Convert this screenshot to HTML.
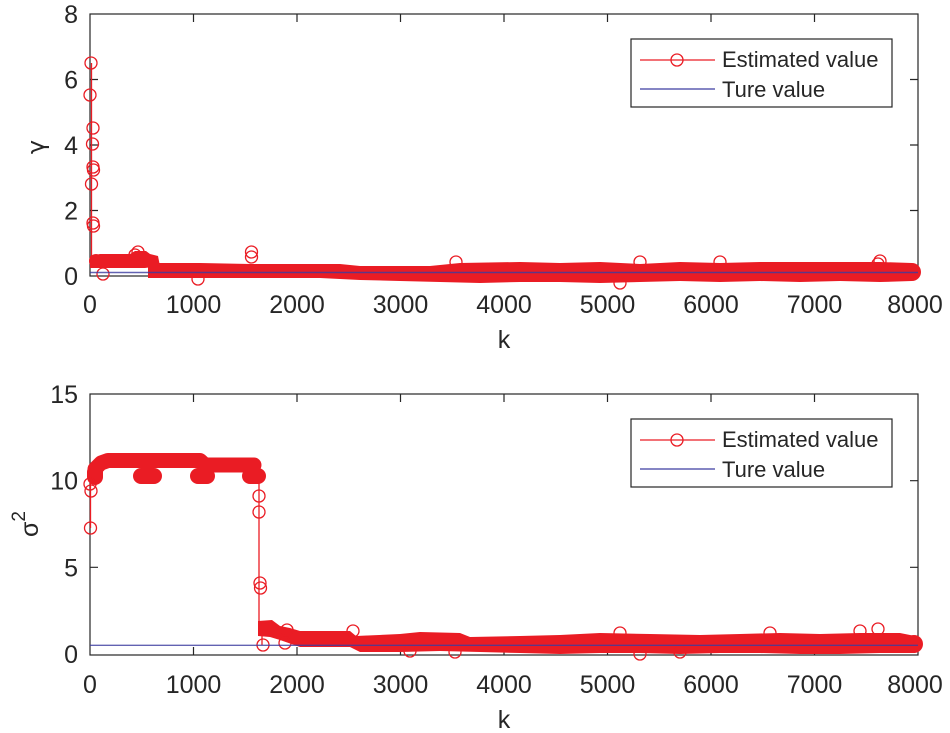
<!DOCTYPE html>
<html><head><meta charset="utf-8"><style>
html,body{margin:0;padding:0;background:#fff;}
svg{display:block;}
text{font-family:"Liberation Sans",Arial,sans-serif;fill:#262626;}
</style></head><body>
<svg width="950" height="733" viewBox="0 0 950 733" xmlns="http://www.w3.org/2000/svg">
<rect width="950" height="733" fill="#fff"/>

<!-- ============ TOP AXES ============ -->
<g stroke="#262626" stroke-width="1.2" fill="none">
  <rect x="90" y="14" width="828" height="262"/>
  <path d="M193.5 276v-8M297 276v-8M400.5 276v-8M504 276v-8M607.5 276v-8M711 276v-8M814.5 276v-8
           M193.5 14v8M297 14v8M400.5 14v8M504 14v8M607.5 14v8M711 14v8M814.5 14v8"/>
  <path d="M90 210.5h8M90 145h8M90 79.5h8M918 210.5h-8M918 145h-8M918 79.5h-8"/>
</g>
<g font-size="25" text-anchor="end">
  <text x="78" y="285">0</text>
  <text x="78" y="219.5">2</text>
  <text x="78" y="154">4</text>
  <text x="78" y="88.5">6</text>
  <text x="78" y="23">8</text>
</g>
<g font-size="25" text-anchor="middle">
  <text x="90" y="313">0</text>
  <text x="193.5" y="313">1000</text>
  <text x="297" y="313">2000</text>
  <text x="400.5" y="313">3000</text>
  <text x="504" y="313">4000</text>
  <text x="607.5" y="313">5000</text>
  <text x="711" y="313">6000</text>
  <text x="814.5" y="313">7000</text>
  <text x="915" y="313">8000</text>
  <text x="504" y="348">k</text>
</g>
<text font-size="24" text-anchor="middle" style="font-family:'DejaVu Sans',sans-serif" transform="translate(44,147) rotate(-90)">γ</text>

<!-- top data -->
<g fill="#ea1c24" stroke="none">
  <polygon points="90,256 100,254 115,254 130,254 135,251 146,251 150,254 158,256 160,266 145,268 120,268 100,268 90,268"/>
  <polygon points="148,263 200,263 250,264 300,264 340,264 360,266 430,266 460,263 520,262 560,263 600,262 640,264 680,262 720,263 760,262 800,262 840,262 880,262 912,263 912,281 880,282 840,281 800,282 760,281 720,282 680,281 640,282 600,283 560,282 520,282 480,283 440,282 400,281 360,280 320,278 280,278 250,278 200,278 148,278"/>
  <circle cx="912" cy="272" r="9"/>
  <circle cx="96" cy="261" r="7"/>
</g>
<g fill="none" stroke="#ea1c24" stroke-width="1.3">
  <path d="M91.5 63V262"/>
  <circle cx="91" cy="63" r="6"/>
  <circle cx="90" cy="95" r="6"/>
  <circle cx="93" cy="128" r="6"/>
  <circle cx="92.5" cy="144" r="6"/>
  <circle cx="93" cy="167" r="6"/>
  <circle cx="93.5" cy="170" r="6"/>
  <circle cx="91.5" cy="184" r="6"/>
  <circle cx="93" cy="223" r="6"/>
  <circle cx="93.5" cy="226" r="6"/>
  <circle cx="103" cy="274" r="6"/>
  <circle cx="138" cy="252" r="6"/>
  <circle cx="135" cy="255" r="6"/>
  <circle cx="251.5" cy="252" r="6"/>
  <circle cx="251.5" cy="257" r="6"/>
  <circle cx="456" cy="262" r="6"/>
  <circle cx="880" cy="261" r="6"/>
  <circle cx="878" cy="264" r="6"/>
  <circle cx="640" cy="262" r="6"/>
  <circle cx="720" cy="262" r="6"/>
  <circle cx="198" cy="279" r="6"/>
  <circle cx="620" cy="283" r="6"/>
</g>
<path d="M90 272.5H918" stroke="#3c3ca0" stroke-width="1.4" opacity="0.8"/>

<!-- top legend -->
<rect x="631" y="39" width="261" height="68" fill="#fff" stroke="#262626" stroke-width="1.2"/>
<path d="M640 60H715" stroke="#ea1c24" stroke-width="1.3"/>
<circle cx="677" cy="60" r="6" fill="none" stroke="#ea1c24" stroke-width="1.3"/>
<path d="M640 89H715" stroke="#3c3ca0" stroke-width="1.3"/>
<text x="722" y="67" font-size="22">Estimated value</text>
<text x="722" y="97" font-size="22">Ture value</text>

<!-- ============ BOTTOM AXES ============ -->
<g stroke="#262626" stroke-width="1.2" fill="none">
  <rect x="90" y="394" width="828" height="261"/>
  <path d="M193.5 655v-8M297 655v-8M400.5 655v-8M504 655v-8M607.5 655v-8M711 655v-8M814.5 655v-8
           M193.5 394v8M297 394v8M400.5 394v8M504 394v8M607.5 394v8M711 394v8M814.5 394v8"/>
  <path d="M90 567.3h8M90 480.7h8M918 567.3h-8M918 480.7h-8"/>
</g>
<g font-size="25" text-anchor="end">
  <text x="78" y="663">0</text>
  <text x="78" y="576.3">5</text>
  <text x="78" y="489.7">10</text>
  <text x="78" y="403">15</text>
</g>
<g font-size="25" text-anchor="middle">
  <text x="90" y="693">0</text>
  <text x="193.5" y="693">1000</text>
  <text x="297" y="693">2000</text>
  <text x="400.5" y="693">3000</text>
  <text x="504" y="693">4000</text>
  <text x="607.5" y="693">5000</text>
  <text x="711" y="693">6000</text>
  <text x="814.5" y="693">7000</text>
  <text x="915" y="693">8000</text>
  <text x="504" y="728">k</text>
</g>
<text font-size="25" text-anchor="middle" transform="translate(38,524) rotate(-90)">σ<tspan dy="-13" font-size="19">2</tspan></text>

<!-- bottom data -->
<g fill="none" stroke="#ea1c24" stroke-linecap="round" stroke-linejoin="round">
  <polyline points="95,469 101,463 108,460.5 200,460.5 205,465 254,465" stroke-width="15"/>
  <path d="M141 476H154M198 476H207M250 476H258" stroke-width="16"/>
  <path d="M95 472V477" stroke-width="16"/>
</g>
<g fill="#ea1c24">
  <polygon points="258,621 272,620 280,626 290,628 300,631 350,631 356,636 400,634 420,632 460,633 470,637 520,636 560,635 600,633 650,634 700,635 740,634 780,633 820,634 860,633 900,633 915,636 915,653 880,653 840,654 800,654 760,653 720,653 680,654 640,653 600,653 560,654 520,653 480,652 440,651 400,652 360,652 350,647 300,647 280,640 270,637 258,636"/>
  <circle cx="914" cy="644" r="9"/>
</g>
<g fill="none" stroke="#ea1c24" stroke-width="1.3">
  <path d="M90.5 528V474M259 477V628M262 628V645"/>
  <circle cx="90.5" cy="528" r="6"/>
  <circle cx="91" cy="491" r="6"/>
  <circle cx="90" cy="484" r="6"/>
  <circle cx="259" cy="496" r="6"/>
  <circle cx="259" cy="512" r="6"/>
  <circle cx="260" cy="583" r="6"/>
  <circle cx="260.5" cy="588" r="6"/>
  <circle cx="263" cy="645" r="6"/>
  <circle cx="287" cy="630" r="6"/>
  <circle cx="285" cy="643" r="6"/>
  <circle cx="353" cy="631" r="6"/>
  <circle cx="410" cy="651" r="6"/>
  <circle cx="455" cy="652" r="6"/>
  <circle cx="620" cy="633" r="6"/>
  <circle cx="680" cy="652" r="6"/>
  <circle cx="770" cy="633" r="6"/>
  <circle cx="860" cy="631" r="6"/>
  <circle cx="878" cy="629" r="6"/>
  <circle cx="640" cy="654" r="6"/>
</g>
<path d="M90 645.3H918" stroke="#3c3ca0" stroke-width="1.4" opacity="0.8"/>

<!-- bottom legend -->
<rect x="631" y="419" width="261" height="68" fill="#fff" stroke="#262626" stroke-width="1.2"/>
<path d="M640 440H715" stroke="#ea1c24" stroke-width="1.3"/>
<circle cx="677" cy="440" r="6" fill="none" stroke="#ea1c24" stroke-width="1.3"/>
<path d="M640 469H715" stroke="#3c3ca0" stroke-width="1.3"/>
<text x="722" y="447" font-size="22">Estimated value</text>
<text x="722" y="477" font-size="22">Ture value</text>
</svg>
</body></html>
